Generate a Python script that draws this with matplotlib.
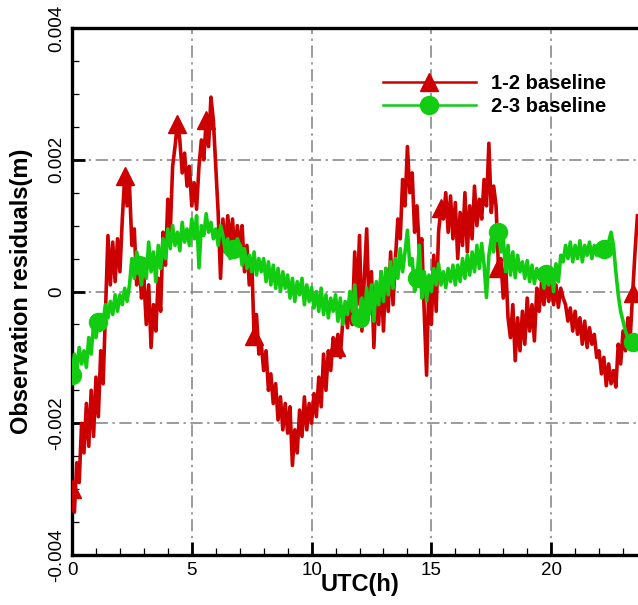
import numpy as np
import matplotlib
matplotlib.use("Agg")
import matplotlib.pyplot as plt
from matplotlib.ticker import MultipleLocator

plt.rcParams['font.family'] = ['Liberation Sans', 'DejaVu Sans']

# residuals in units of 1e-3 m, one sample every 0.1 h (one row per hour)
dt = 0.1
res12_mm = [
    -3.0, -3.35, -2.6, -2.9, -2.0, -2.45, -1.7, -2.35, -1.5, -2.2,
    -1.3, -1.9, -0.9, -1.4, -0.3, 0.85, 0.1, 0.75, 0.15, 0.8,
    0.3, 1.1, 1.75, 1.3, 1.6, 0.7, 0.95, 0.1, 0.5, -0.1,
    0.2, -0.5, 0.1, -0.85, -0.2, -0.6, 0.2, -0.3, 0.9, 0.4,
    1.4, 0.9, 1.9, 2.2, 2.55, 2.3, 1.8, 2.1, 1.6, 1.9,
    1.3, 1.65, 1.25, 1.9, 2.3, 2.0, 2.6, 2.2, 2.95, 2.6,
    1.9, 1.2, 0.2, 1.1, 0.6, 1.15, 0.7, 1.1, 0.55, 1.0,
    0.65, 1.0, 0.3, 0.7, 0.1, 0.5, -0.67, -0.35, -0.95, -0.8,
    -1.2, -0.9, -1.5, -1.25, -1.7, -1.4, -1.95, -1.6, -2.1, -1.7,
    -2.15, -1.75, -2.64, -2.1, -2.45, -1.8, -2.2, -1.6, -2.1, -1.7,
    -2.0, -1.55, -1.9, -1.3, -1.75, -0.95, -1.5, -0.9, -1.2, -0.7,
    -0.85, -0.65, -1.0, -0.45, -0.3, -0.55, -0.15, -0.5, 0.6, -0.2,
    0.85, -0.6, 0.2, 0.95, -0.3, 0.3, -0.85, 0.1, -0.5, 0.3,
    -0.6, 0.35, -0.3, 0.6, -0.2, 0.5, 1.1, 0.8, 1.7, 1.3,
    2.2, 1.5, 1.8, 0.9, 1.3, 0.6, 0.8, -0.3, -1.27, 0.2,
    -0.5, 0.55, -0.3, 0.9, 1.27, 1.1, 1.5, 0.9, 1.45, 0.8,
    1.35, 0.5, 1.2, 0.7, 1.5, 0.6, 1.3, 0.8, 1.6, 1.0,
    1.4, 1.1, 1.7, 1.3, 2.25, 1.2, 1.6, 1.3, 0.36, 0.5,
    -0.1, 0.4, -0.4, -0.7, -0.2, -1.05, -0.4, -0.9, -0.3, -0.8,
    -0.1, -0.6, -0.2, -0.75, 0.05, -0.3, 0.15, -0.2, 0.2, -0.15,
    0.15, -0.2, 0.1, -0.24, 0.05, -0.1, -0.2, -0.45, -0.25, -0.6,
    -0.3, -0.65, -0.4, -0.8, -0.45, -0.85, -0.55, -0.8, -0.65, -1.0,
    -0.9, -1.25, -1.0, -1.43, -1.1, -1.4, -1.2, -1.45, -0.8, -1.1,
    -0.6, -0.9, -0.4, -0.7, -0.03, 0.6, 1.15,
]

res23_mm = [
    -1.27, -0.95, -1.2, -0.85, -1.1, -0.9, -1.15, -0.7, -0.95, -0.5,
    -0.7, -0.47, -0.35, -0.44, -0.2, -0.4, -0.15, -0.35, -0.05, -0.3,
    -0.05, -0.2, 0.05, -0.15, 0.1, 0.5, 0.2, 0.6, 0.4, 0.1,
    0.5, 0.2, 0.75, 0.3, 0.6, 0.15, 0.7, 0.35, 0.8, 0.5,
    0.95, 0.65, 1.0, 0.7, 0.9, 0.62, 1.05, 0.75, 0.95, 0.7,
    1.1, 0.8, 1.15, 0.36, 1.0, 0.85, 1.18, 0.9, 1.05, 0.8,
    0.95, 0.7, 1.0, 0.85, 0.6, 0.8, 0.5, 0.65, 0.55, 0.8,
    0.7, 0.4, 0.65, 0.35, 0.55, 0.3, 0.6, 0.25, 0.5, 0.3,
    0.5, 0.15, 0.45, 0.1, 0.4, 0.05, 0.35, 0.0, 0.3, 0.05,
    0.25, -0.1, 0.2, -0.15, 0.15, -0.05, 0.2, -0.2, 0.1, -0.15,
    0.06, -0.25, 0.0, -0.3, 0.05, -0.35, -0.05, -0.4, -0.1, -0.3,
    -0.05, -0.45, -0.1, -0.5, -0.15, -0.35, 0.0, -0.3, 0.1, -0.4,
    -0.4, -0.1, -0.5, 0.05, -0.35, 0.1, -0.45, 0.15, -0.2, 0.3,
    -0.15, 0.35, -0.05, 0.45, 0.05, 0.5, 0.2, 0.65, 0.3, 0.6,
    0.93, 0.4, 0.5, 0.0, 0.2, 0.7, -0.1, 0.3, -0.14, 0.25,
    0.0, 0.35, 0.1, 0.42, 0.1, 0.3, 0.06, 0.35, 0.15, 0.4,
    0.1, 0.4, 0.15, 0.5, 0.2, 0.55, 0.25, 0.6, 0.3, 0.7,
    0.35, 0.73, 0.4, -0.09, 0.55, 0.8, 0.6, 0.93, 0.9, 0.6,
    0.82, 0.3, 0.7, 0.25, 0.6, 0.21, 0.55, 0.3, 0.45, 0.2,
    0.47, 0.15, 0.4, 0.12, 0.35, 0.2, 0.3, 0.05, 0.27, 0.1,
    0.35, 0.0, 0.42, 0.15, 0.55, 0.45, 0.7, 0.5, 0.75, 0.45,
    0.7, 0.5, 0.77, 0.45, 0.7, 0.55, 0.75, 0.5, 0.7, 0.55,
    0.7, 0.6, 0.65, 0.62, 0.75, 0.9, 0.7, 0.3, -0.05, -0.3,
    -0.45, -0.6, -0.7, -0.75, -0.77, -0.8, -0.82,
]

# epochs (h) where the symbols sit
sym12_h = [0.0, 2.2, 4.4, 5.6, 7.6, 11.0, 15.4, 17.8, 23.4]
sym23_h = [0.0, 1.1, 2.8, 6.7, 12.0, 14.4, 17.8, 19.8, 22.2, 23.4]

xticks = [0, 5, 10, 15, 20]
xticklabels = ['0', '5', '10', '15', '20']
yticks = [-0.004, -0.002, 0.0, 0.002, 0.004]
yticklabels = ['-0.004', '-0.002', '0', '0.002', '0.004']

red = '#cc0000'
green = '#11cc11'

t12 = np.arange(len(res12_mm)) * dt
t23 = np.arange(len(res23_mm)) * dt
y12 = np.array(res12_mm) / 1000.0
y23 = np.array(res23_mm) / 1000.0
mk12 = list(np.rint(np.array(sym12_h) / dt).astype(int))
mk23 = list(np.rint(np.array(sym23_h) / dt).astype(int))

fig = plt.figure(figsize=(6.38, 6.05), dpi=100)
ax = fig.add_axes([72/638, 50/605, 575/638, 527/605])

# fairly thick strokes so the residual noise reads as a band
ax.plot(t12, y12, color=red, lw=2.6, marker='^', ms=12.5, markevery=mk12,
        label='1-2 baseline', zorder=3)
ax.plot(t23, y23, color=green, lw=2.6, marker='o', ms=13, markevery=mk23,
        label='2-3 baseline', zorder=4)

ax.set_xlim(0, 24)
ax.set_ylim(-0.004, 0.004)
ax.set_xticks(xticks)
ax.set_xticklabels(xticklabels)
ax.set_yticks(yticks)
ax.set_yticklabels(yticklabels, rotation=90, va='center')
ax.xaxis.set_minor_locator(MultipleLocator(1))
ax.yaxis.set_minor_locator(MultipleLocator(0.0005))

ax.tick_params(which='both', direction='in', top=False, right=False,
               labelsize=13.5, colors='black')
ax.tick_params(which='major', length=9.5, width=2)
ax.tick_params(which='minor', length=5, width=0.9)
ax.tick_params(axis='x', pad=5)
ax.tick_params(axis='y', pad=5)

for s in ax.spines.values():
    s.set_linewidth(2.4)

# dash-dot grid at the major ticks
ax.grid(True, which='major', color='#808080', lw=1.1,
        linestyle=(0, (8, 3, 1.5, 3)), zorder=1)

ax.set_xlabel('UTC(h)', fontsize=17, fontweight='bold')
ax.set_ylabel('Observation residuals(m)', fontsize=17, fontweight='bold')
ax.xaxis.set_label_coords(0.5, -0.035)
ax.yaxis.set_label_coords(-0.068, 0.5)

leg = ax.legend(loc='upper left', bbox_to_anchor=(0.541, 0.913), frameon=False,
                borderpad=0, borderaxespad=0, handlelength=4.6,
                handletextpad=0.75, labelspacing=0.2,
                prop={'size': 14.5, 'weight': 'bold'})
for h in leg.legend_handles:
    h.set_linewidth(1.8)

fig.savefig('out.png', dpi=100)
